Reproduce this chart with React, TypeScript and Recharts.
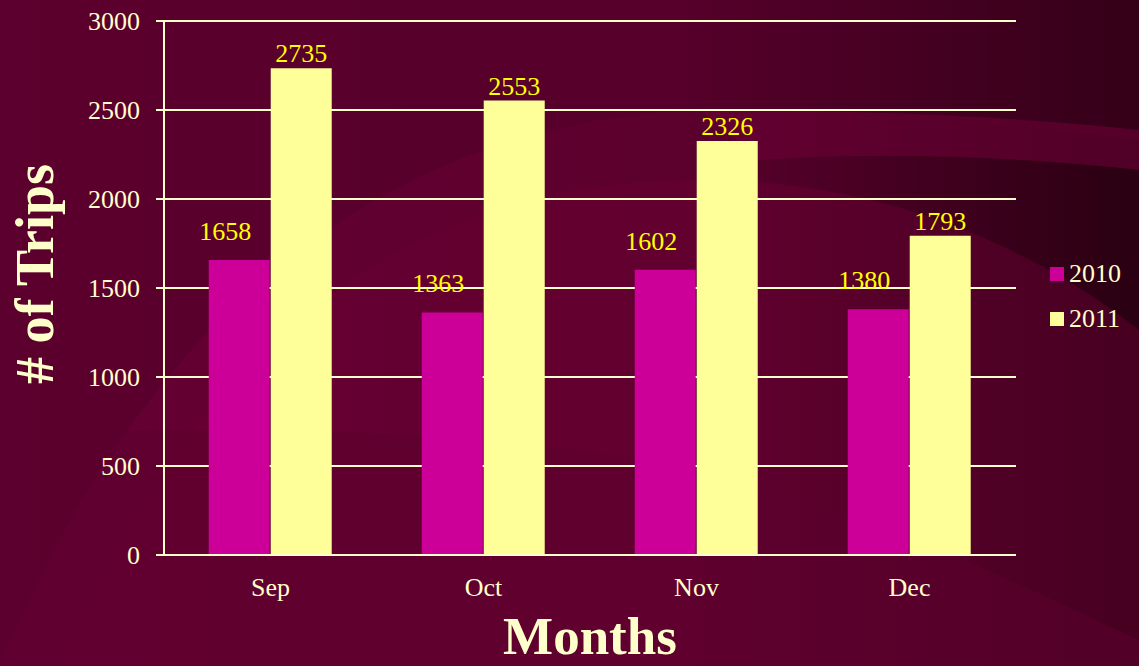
import React from 'react';
import { BarChart, Bar, XAxis, YAxis, CartesianGrid, LabelList } from 'recharts';

const months = ['Sep', 'Oct', 'Nov', 'Dec'];
const trips2010 = [1658, 1363, 1602, 1380];
const trips2011 = [2735, 2553, 2326, 1793];
const yTicks = [0, 500, 1000, 1500, 2000, 2500, 3000];
const seriesNames = ['2010', '2011'];

const data = months.map((m, i) => ({ month: m, y2010: trips2010[i], y2011: trips2011[i] }));

const CREAM = '#FFFFCC';
const C2010 = '#CC0099';
const C2011 = '#FFFF99';
const LABEL = '#FFFF00';
const FONT = '"Liberation Serif", "Times New Roman", serif';

const makeLabel = (dx: number, gap: number) => (p: any) => (
  <text x={p.x + p.width / 2 + dx} y={p.y - gap} textAnchor="middle" fill={LABEL}
    style={{ fontFamily: FONT, fontSize: 26 }}>
    {p.value}
  </text>
);

export default function App() {
  return (
    <div style={{ position: 'fixed', left: 0, top: 0, width: 1139, height: 666, overflow: 'hidden' }}>
      <svg width={1139} height={666} style={{ position: 'absolute', left: 0, top: 0 }}>
        <defs>
          <linearGradient id="bg" x1="0" y1="0" x2="1" y2="0">
            <stop offset="0%" stopColor="#660033" />
            <stop offset="60%" stopColor="#5c002e" />
            <stop offset="100%" stopColor="#2a0012" />
          </linearGradient>
        </defs>
        <rect x={0} y={0} width={1139} height={666} fill="url(#bg)" />
        <path d="M0,666 C150,300 400,120 700,110 C900,105 1050,130 1139,140 L1139,0 L0,0 Z" fill="#4a0024" opacity={0.35} />
        <path d="M60,666 C200,330 420,180 700,180 C900,180 1050,260 1139,330 L1139,666 Z" fill="#6a0034" opacity={0.45} />
        <path d="M0,440 C200,420 500,430 700,470 C900,520 1050,600 1139,640 L1139,666 L0,666 Z" fill="#5c002d" opacity={0.5} />
        <path d="M700,110 C900,110 1050,120 1139,130 L1139,170 C1050,160 900,150 760,160 Z" fill="#6a0036" opacity={0.6} />
      </svg>
      <div style={{ position: 'absolute', left: 0, top: 0 }}>
        <BarChart
          width={1139}
          height={666}
          data={data}
          margin={{ top: 21, right: 123, bottom: 0, left: 0 }}
          barCategoryGap="21%"
          barGap={1}
        >
          <CartesianGrid vertical={false} stroke={CREAM} strokeWidth={2} />
          <XAxis
            dataKey="month"
            height={111}
            axisLine={{ stroke: CREAM, strokeWidth: 2 }}
            tickLine={false}
            tick={{ fill: CREAM, fontSize: 26, fontFamily: FONT }}
            tickMargin={17}
            label={{
              content: (props: any) => {
                const vb = props.viewBox;
                return (
                  <text x={vb.x + vb.width / 2} y={654} textAnchor="middle" fill={CREAM}
                    style={{ fontFamily: FONT, fontSize: 53, fontWeight: 'bold' }}>
                    Months
                  </text>
                );
              },
            }}
          />
          <YAxis
            width={164}
            domain={[0, 3000]}
            ticks={yTicks}
            interval={0}
            axisLine={{ stroke: CREAM, strokeWidth: 2 }}
            tickLine={{ stroke: CREAM, strokeWidth: 2 }}
            tickSize={8}
            tickMargin={16}
            tick={{ fill: CREAM, fontSize: 26, fontFamily: FONT }}
            label={{
              content: () => (
                <text x={53} y={274} textAnchor="middle" fill={CREAM} transform="rotate(-90 53 274)"
                  style={{ fontFamily: FONT, fontSize: 54, fontWeight: 'bold' }}>
                  # of Trips
                </text>
              ),
            }}
          />
          <Bar dataKey="y2010" name={seriesNames[0]} fill={C2010} isAnimationActive={false}>
            <LabelList dataKey="y2010" content={makeLabel(-14, 20)} />
          </Bar>
          <Bar dataKey="y2011" name={seriesNames[1]} fill={C2011} isAnimationActive={false}>
            <LabelList dataKey="y2011" content={makeLabel(0, 6)} />
          </Bar>
        </BarChart>
      </div>
      <div style={{ position: 'absolute', left: 1050, top: 259, fontFamily: FONT, fontSize: 26, color: CREAM, lineHeight: '30px' }}>
        {seriesNames.map((n, i) => (
          <div key={n} style={{ display: 'flex', alignItems: 'center', height: 30, marginBottom: i === 0 ? 15 : 0 }}>
            <span style={{ display: 'inline-block', width: 14, height: 14, background: i === 0 ? C2010 : C2011, marginRight: 5 }} />
            <span>{n}</span>
          </div>
        ))}
      </div>
    </div>
  );
}
